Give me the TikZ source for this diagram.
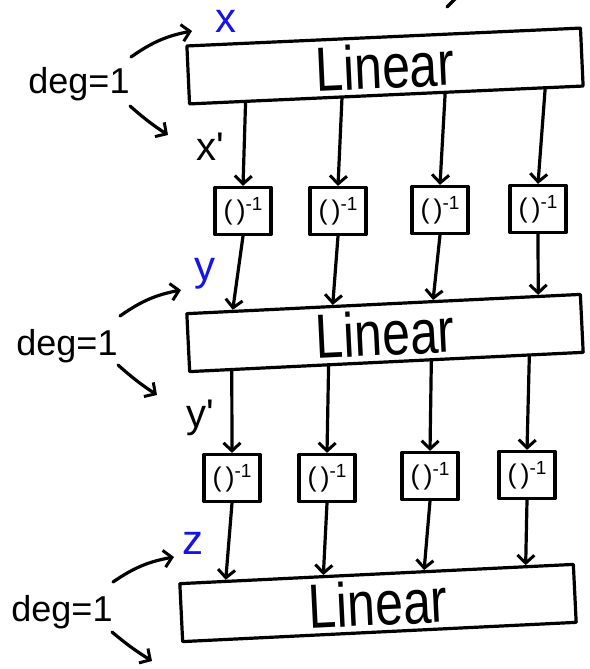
\documentclass[tikz,border=0pt]{standalone}
\usepackage{fontspec}
\setmainfont{Liberation Sans}
\usetikzlibrary{arrows.meta,calc}
\definecolor{penblue}{RGB}{20,20,235}
\newcommand{\invtext}{(\kern4pt)\raisebox{9pt}{\fontsize{19}{19}\selectfont -1}}
\begin{document}
\begin{tikzpicture}[x=1pt,y=-1pt,
  ink/.style={line width=3.2pt, line cap=round, line join=round},
  barb/.style={-{Straight Barb[length=8pt,width=17pt,line width=3pt]}},
  linbox/.style={ink, draw, minimum width=394pt, minimum height=58pt, inner sep=0pt,
    font=\fontsize{50}{50}\selectfont},
  invbox/.style={ink, draw, minimum width=56pt, minimum height=47pt, inner sep=0pt,
    font=\fontsize{27}{27}\selectfont},
  flow/.style={ink, barb},
  hint/.style={ink, barb},
  deglabel/.style={font=\fontsize{36}{36}\selectfont, inner sep=0pt},
  varlabel/.style={font=\fontsize{40}{40}\selectfont, inner sep=0pt},
  bluelabel/.style={font=\fontsize{42}{42}\selectfont, text=penblue, inner sep=0pt},
]
\useasboundingbox (0,0) rectangle (589,669);

% stray pen stroke at the top edge
\draw[ink] (456,-2) -- (447,7);

% --- the three Linear layers
\node[linbox, rotate=2.6] (L1) at (385,66) {\scalebox{1}[1.25]{Linear}};
\node[linbox, rotate=2.8] (L2) at (385,333) {\scalebox{1}[1.25]{Linear}};
\node[linbox, rotate=2.8] (L3) at (378,603) {\scalebox{1}[1.25]{Linear}};

% --- element-wise inverses, first row
\node[invbox] (a1) at (243,211) {\invtext};
\node[invbox] (a2) at (338,211) {\invtext};
\node[invbox] (a3) at (440,210) {\invtext};
\node[invbox] (a4) at (538,209) {\invtext};

% --- element-wise inverses, second row
\node[invbox] (b1) at (232,478) {\invtext};
\node[invbox] (b2) at (327,478) {\invtext};
\node[invbox] (b3) at (430,476) {\invtext};
\node[invbox] (b4) at (527,475) {\invtext};

% --- flow: L1 -> first row
\draw[flow] ($(L1.south west)!0.145!(L1.south east)$) -- (a1.north);
\draw[flow] ($(L1.south west)!0.388!(L1.south east)$) -- (a2.north);
\draw[flow] ($(L1.south west)!0.648!(L1.south east)$) -- (a3.north);
\draw[flow] ($(L1.south west)!0.900!(L1.south east)$) -- (a4.north);

% --- first row -> L2
\draw[flow] (a1.south) -- ($(L2.north west)!0.12!(L2.north east)$);
\draw[flow] (a2.south) -- ($(L2.north west)!0.372!(L2.north east)$);
\draw[flow] (a3.south) -- ($(L2.north west)!0.625!(L2.north east)$);
\draw[flow] (a4.south) -- ($(L2.north west)!0.89!(L2.north east)$);

% --- L2 -> second row
\draw[flow] ($(L2.south west)!0.11!(L2.south east)$) -- (b1.north);
\draw[flow] ($(L2.south west)!0.354!(L2.south east)$) -- (b2.north);
\draw[flow] ($(L2.south west)!0.613!(L2.south east)$) -- (b3.north);
\draw[flow] ($(L2.south west)!0.86!(L2.south east)$) -- (b4.north);

% --- second row -> L3
\draw[flow] (b1.south) -- ($(L3.north west)!0.12!(L3.north east)$);
\draw[flow] (b2.south) -- ($(L3.north west)!0.366!(L3.north east)$);
\draw[flow] (b3.south) -- ($(L3.north west)!0.62!(L3.north east)$);
\draw[flow] (b4.south) -- ($(L3.north west)!0.876!(L3.north east)$);

% --- layer inputs and outputs
\node[bluelabel] (x) at (226,21) {x};
\node[varlabel] (xp) at (210,147) {x\textquotesingle};
\node[bluelabel] (y) at (205,274) {y};
\node[varlabel] (yp) at (200,418) {y\textquotesingle};
\node[bluelabel] (z) at (193,543) {z};

% --- degree annotations
\node[deglabel] (d1) at (79,84) {deg=1};
\node[deglabel] (d2) at (67,346) {deg=1};
\node[deglabel] (d3) at (62,612) {deg=1};

\coordinate (d1u) at (131,57);  \coordinate (d1ut) at (192,31);
\coordinate (d1l) at (130,106); \coordinate (d1lt) at (168,135);
\coordinate (d2u) at (120,316); \coordinate (d2ut) at (181,290);
\coordinate (d2l) at (118,365); \coordinate (d2lt) at (157,395);
\coordinate (d3u) at (113,582); \coordinate (d3ut) at (174,557);
\coordinate (d3l) at (112,632); \coordinate (d3lt) at (152,661);

\draw[hint] (d1u) to[bend left=12] (d1ut);
\draw[hint] (d1l) to[bend right=4] (d1lt);
\draw[hint] (d2u) to[bend left=12] (d2ut);
\draw[hint] (d2l) to[bend right=4] (d2lt);
\draw[hint] (d3u) to[bend left=12] (d3ut);
\draw[hint] (d3l) to[bend right=4] (d3lt);
\end{tikzpicture}
\end{document}
